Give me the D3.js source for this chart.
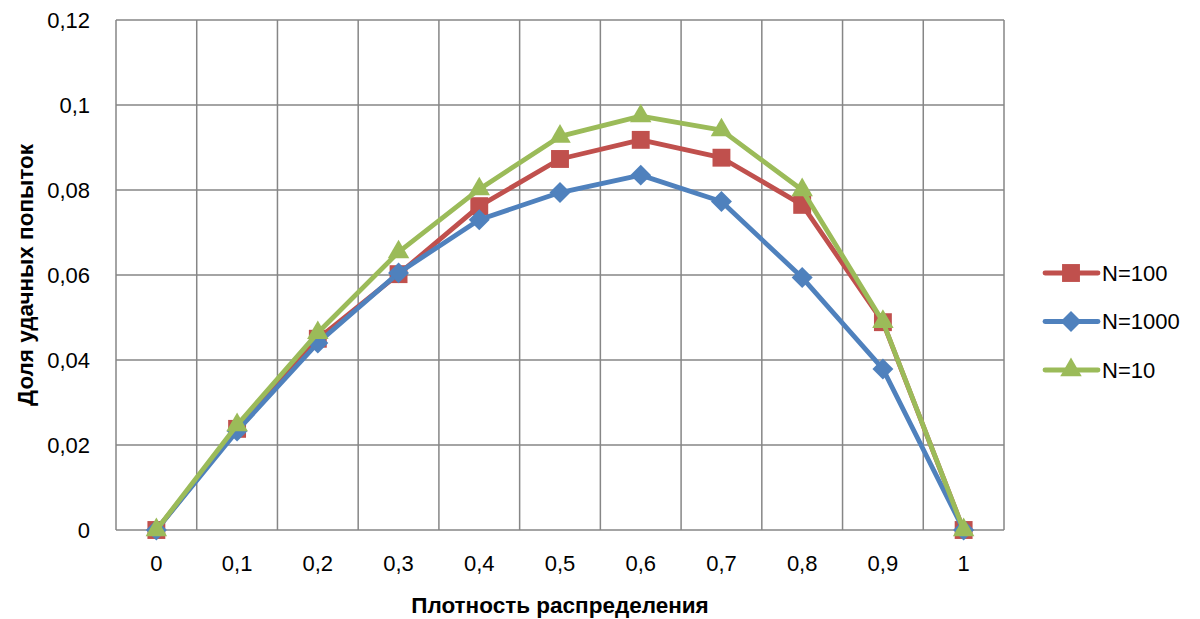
<!DOCTYPE html>
<html>
<head>
<meta charset="utf-8">
<script src="https://cdn.jsdelivr.net/npm/d3@7"></script>
<style>
  body { margin: 0; background: #fff; }
  text { font-family: "Liberation Sans", "DejaVu Sans", sans-serif; }
</style>
</head>
<body>
<div id="vis"></div>
<script>
// Data
const densities = [0, 0.1, 0.2, 0.3, 0.4, 0.5, 0.6, 0.7, 0.8, 0.9, 1];
const n100  = [0, 0.0238, 0.0450, 0.0602, 0.0762, 0.0873, 0.0918, 0.0876, 0.0765, 0.0489, 0];
const n1000 = [0, 0.0233, 0.0440, 0.0605, 0.0730, 0.0794, 0.0835, 0.0773, 0.0594, 0.0379, 0];
const n10   = [0, 0.0247, 0.0464, 0.0654, 0.0802, 0.0926, 0.0974, 0.0941, 0.0800, 0.0490, 0];
const yTicks = [0, 0.02, 0.04, 0.06, 0.08, 0.1, 0.12];

// diamond as a square turned by 45 degrees
const diamond = {
  draw(ctx, size) {
    const r = Math.sqrt(size / 2);
    ctx.moveTo(0, -r); ctx.lineTo(r, 0); ctx.lineTo(0, r); ctx.lineTo(-r, 0); ctx.closePath();
  }
};

const series = [
  { name: "N=100",  values: n100,  color: "#c0504d", symbol: d3.symbolSquare,   size: 320 },
  { name: "N=1000", values: n1000, color: "#4f81bd", symbol: diamond,           size: 220 },
  { name: "N=10",   values: n10,   color: "#9bbb59", symbol: d3.symbolTriangle, size: 200 }
];

const width = 1200, height = 619;
const margin = { top: 20, right: 196, bottom: 89, left: 116 };
const fmt = v => String(v).replace(".", ",");

const svg = d3.select("#vis").append("svg")
  .attr("width", width)
  .attr("height", height);

// category axis: points sit in the middle of each band
const x = d3.scaleBand()
  .domain(densities)
  .range([margin.left, width - margin.right]);
const cx = d => x(d) + x.bandwidth() / 2;

const y = d3.scaleLinear()
  .domain([0, 0.12])
  .range([height - margin.bottom, margin.top]);

const gridColor = "#868686";

// horizontal grid
svg.append("g")
  .selectAll("line")
  .data(yTicks)
  .join("line")
  .attr("x1", margin.left).attr("x2", width - margin.right)
  .attr("y1", d => y(d)).attr("y2", d => y(d))
  .attr("stroke", gridColor).attr("stroke-width", 1.5);

// vertical grid at band boundaries
const bounds = densities.map(d => x(d)).concat([x(densities[densities.length - 1]) + x.bandwidth()]);
svg.append("g")
  .selectAll("line")
  .data(bounds)
  .join("line")
  .attr("x1", d => d).attr("x2", d => d)
  .attr("y1", margin.top).attr("y2", height - margin.bottom)
  .attr("stroke", gridColor).attr("stroke-width", 1.5);

// axis labels
svg.append("g")
  .selectAll("text")
  .data(yTicks)
  .join("text")
  .attr("x", margin.left - 26)
  .attr("y", d => y(d))
  .attr("dy", "0.35em")
  .attr("text-anchor", "end")
  .attr("font-size", "22px")
  .attr("fill", "#000")
  .text(fmt);

svg.append("g")
  .selectAll("text")
  .data(densities)
  .join("text")
  .attr("x", d => cx(d))
  .attr("y", height - margin.bottom + 33)
  .attr("dy", "0.35em")
  .attr("text-anchor", "middle")
  .attr("font-size", "22px")
  .attr("fill", "#000")
  .text(fmt);

// axis titles
svg.append("text")
  .attr("x", (margin.left + width - margin.right) / 2)
  .attr("y", 605)
  .attr("dy", "0.35em")
  .attr("text-anchor", "middle")
  .attr("font-size", "22.5px")
  .attr("font-weight", "bold")
  .text("Плотность распределения");

svg.append("text")
  .attr("transform", `translate(25,${(margin.top + height - margin.bottom) / 2}) rotate(-90)`)
  .attr("dy", "0.35em")
  .attr("text-anchor", "middle")
  .attr("font-size", "22.5px")
  .attr("font-weight", "bold")
  .text("Доля удачных попыток");

// lines + markers
const line = d3.line()
  .x((d, i) => cx(densities[i]))
  .y(d => y(d));

series.forEach(s => {
  svg.append("path")
    .datum(s.values)
    .attr("fill", "none")
    .attr("stroke", s.color)
    .attr("stroke-width", 4.8)
    .attr("stroke-linejoin", "round")
    .attr("d", line);

  svg.append("g")
    .selectAll("path")
    .data(s.values)
    .join("path")
    .attr("transform", (d, i) => `translate(${cx(densities[i])},${y(d)})`)
    .attr("d", d3.symbol(s.symbol, s.size))
    .attr("fill", s.color);
});

// legend
const legend = svg.append("g")
  .attr("transform", "translate(1045,273)");

series.forEach((s, i) => {
  const g = legend.append("g").attr("transform", `translate(0,${i * 48.5})`);
  g.append("line")
    .attr("x1", 0).attr("x2", 53)
    .attr("stroke", s.color)
    .attr("stroke-width", 4.8)
    .attr("stroke-linecap", "round");
  g.append("path")
    .attr("transform", "translate(26,0)")
    .attr("d", d3.symbol(s.symbol, s.size))
    .attr("fill", s.color);
  g.append("text")
    .attr("x", 57)
    .attr("dy", "0.35em")
    .attr("font-size", "22px")
    .attr("fill", "#000")
    .text(s.name);
});
</script>
</body>
</html>
